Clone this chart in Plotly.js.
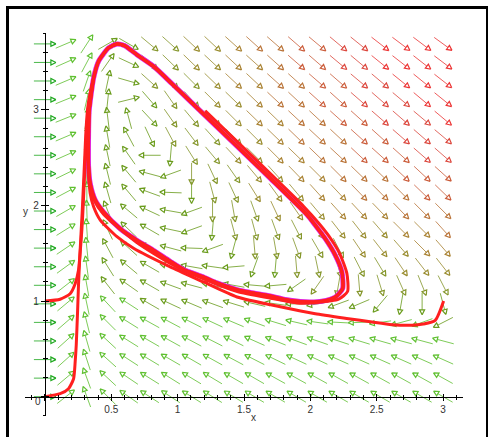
<!DOCTYPE html>
<html><head><meta charset="utf-8">
<script src="https://cdn.plot.ly/plotly-3.0.1.min.js"></script>
<style>
html,body{margin:0;padding:0;background:#fff;overflow:hidden}
#chart{position:absolute;left:0;top:0;width:488px;height:437px}
#frame{position:absolute;left:6px;top:6px;width:477px;height:440px;border:3px solid #000;pointer-events:none}
</style></head><body>
<div id="chart"></div><div id="frame"></div>
<script>
// grid of direction-field arrows (centres)
const gridX = [0,0.158,0.316,0.474,0.632,0.789,0.947,1.105,1.263,1.421,1.579,1.737,1.895,2.053,2.211,2.368,2.526,2.684,2.842,3];
const gridY = [0,0.194,0.388,0.583,0.777,0.971,1.165,1.359,1.554,1.748,1.942,2.136,2.331,2.525,2.719,2.913,3.107,3.302,3.496,3.69];
// arrow directions (degrees on screen, rows from y=0 upward)
const arrowAngle = [
[0,38,110,135,145,147,147,148,148,149,149,150,150,150,150,150,150,150,150,150],
[0,40,110,137,146,148,148,149,149,150,150,151,151,151,151,151,151,151,151,151],
[0,42,108,138,147,149,150,150,151,152,153,154,155,155,156,156,156,156,156,156],
[0,42,106,137,148,150,151,152,153,154,156,158,160,161,162,163,164,165,165,165],
[0,41,104,135,148,151,152,153,155,157,160,163,167,172,177,182,188,195,200,207],
[0,40,102,133,147,150,155,157,160,163,167,172,180,190,200,203,-130,-100,-90,-75],
[0,38,100,128,145,150,160,165,167,170,175,185,-145,-125,-100,-85,-73,-66,-68,-63],
[0,36,98,122,140,150,165,170,172,185,-110,-95,-85,-78,-75,-63,-59,-56,-52,-52],
[0,34,96,118,138,150,165,178,200,-105,-85,-80,-70,-60,-63,-56,-52,-49,-45,-49],
[0,32,94,115,136,150,168,200,-95,-75,-75,-70,-63,-55,-52,-52,-49,-45,-45,-48],
[0,30,92,112,140,155,170,200,-90,-80,-70,-65,-55,-50,-48,-47,-46,-46,-45,-45],
[0,28,90,106,130,160,178,-90,-75,-65,-58,-54,-50,-48,-47,-46,-45,-45,-44,-44],
[0,26,89,104,130,165,200,-90,-65,-55,-50,-48,-46,-45,-45,-44,-44,-43,-43,-42],
[0,24,87,102,125,180,-95,-58,-50,-47,-45,-45,-44,-44,-43,-43,-42,-42,-41,-41],
[0,23,84,100,118,-65,-62,-53,-48,-46,-45,-44,-44,-43,-43,-42,-42,-41,-41,-40],
[0,22,80,97,105,-47,-55,-50,-46,-45,-44,-44,-43,-43,-42,-42,-41,-41,-40,-40],
[0,22,77,84,14,-49,-55,-48,-45,-44,-44,-43,-43,-42,-42,-41,-41,-40,-40,-39],
[0,23,71,78,-16,-42,-46,-45,-44,-43,-43,-42,-42,-41,-41,-40,-40,-39,-39,-38],
[0,24,62,55,-25,-42,-44,-44,-43,-43,-42,-42,-41,-41,-40,-40,-39,-38,-38,-37],
[0,23,57,30,-30,-40,-42,-43,-43,-42,-42,-41,-41,-40,-40,-39,-38,-37,-37,-36]
];
// colour level of each arrow (0 green ... 9 red), rows from y=0 upward
const arrowLevel = [
"01111111111111111111",
"01111111111111111111",
"01111111111111111111",
"01111111111111111111",
"01111111111111111112",
"01111222222222222222",
"01122222222223333333",
"01122222222233333444",
"01122222223333344455",
"01122222233334444556",
"01122222333444555666",
"01122222334445566677",
"01122223334455666777",
"01122223344556677788",
"01122233344566677888",
"01122233445566778889",
"01122233445667788899",
"01122333455667788999",
"01122334455677889999",
"01122334456677889999"
];
const levelColors = ["#1fa81f","#5fc030","#6a9c1c","#84962a","#998c2e","#a98232","#b97236","#cb5c3a","#dc463c","#ec3434"];

// limit cycle (clockwise on screen), starting on the left branch
const cycleX = [0.329,0.329,0.333,0.367,0.404,0.479,0.542,0.600,0.693,0.818,0.960,1.200,1.447,1.700,1.974,2.037,2.112,2.188,2.238,2.243,2.188,2.087,2.000,1.924,1.798,1.698,1.547,1.447,1.296,1.195,1.045,0.944,0.818,0.693,0.567,0.442,0.379,0.341,0.329];
const cycleY = [2.406,2.755,2.985,3.334,3.508,3.648,3.689,3.672,3.577,3.456,3.270,2.950,2.619,2.280,1.904,1.793,1.653,1.479,1.304,1.130,1.043,0.998,0.990,0.995,1.020,1.053,1.090,1.119,1.190,1.252,1.330,1.416,1.531,1.636,1.757,1.932,2.057,2.232,2.406];
// trajectory from (0,1)
const t1X = [0.000,0.115,0.190,0.228,0.253,0.266,0.279,0.286,0.295,0.305,0.315,0.330];
const t1Y = [1.000,1.019,1.077,1.182,1.322,1.514,1.757,1.932,2.200,2.500,2.800,3.050];
// trajectory from (0,0)
const t2X = [0.000,0.115,0.178,0.216,0.228,0.236,0.246,0.253,0.261,0.274,0.281,0.290,0.300,0.310,0.325];
const t2Y = [0.000,0.031,0.084,0.188,0.363,0.538,0.886,1.165,1.409,1.757,1.932,2.200,2.500,2.800,3.050];
// trajectory from (3,1)
const t3X = [3.004,2.941,2.850,2.766,2.615,2.464,2.288,2.037,1.773,1.447,1.195,0.944,0.668,0.543,0.417,0.367,0.341,0.330];
const t3Y = [1.000,0.799,0.760,0.747,0.753,0.781,0.816,0.868,0.941,1.043,1.200,1.357,1.552,1.674,1.848,1.987,2.127,2.350];
// trajectory from (1.2,3)
const t4X = [1.208,1.447,1.700,1.950,2.060,2.140,2.220,2.275,2.280,2.213,2.037,1.900,1.700,1.450,1.200,0.944,0.690,0.440,0.370,0.335,0.329];
const t4Y = [2.990,2.670,2.330,1.990,1.820,1.680,1.500,1.290,1.100,1.020,0.985,0.980,1.030,1.100,1.230,1.395,1.615,1.910,2.060,2.240,2.410];

const W = 488, H = 437, M = {l:25, r:25, t:33, b:21};
const xr = [-0.15, 3.15], yr = [-0.202, 3.804];
const ppx = (W - M.l - M.r) / (xr[1] - xr[0]);
const ppy = (H - M.t - M.b) / (yr[1] - yr[0]);
const LEN = 22, HL = 5, HW = 2.5;

const traces = [];
for (let lev = 0; lev < levelColors.length; lev++) {
  const sx = [], sy = [], hx = [], hy = [];
  for (let j = 0; j < gridY.length; j++) {
    for (let i = 0; i < gridX.length; i++) {
      if (+arrowLevel[j][i] !== lev) continue;
      const th = arrowAngle[j][i] * Math.PI / 180;
      const ux = Math.cos(th), uy = Math.sin(th);
      const cx = gridX[i], cy = gridY[j];
      const tx = cx + ux * LEN / 2 / ppx, ty = cy + uy * LEN / 2 / ppy;
      const ax = cx - ux * LEN / 2 / ppx, ay = cy - uy * LEN / 2 / ppy;
      const bx = tx - ux * HL / ppx, by = ty - uy * HL / ppy;
      const nx = -uy * HW / ppx, ny = ux * HW / ppy;
      sx.push(ax, bx, null); sy.push(ay, by, null);
      hx.push(tx, bx + nx, bx - nx, tx, null);
      hy.push(ty, by + ny, by - ny, ty, null);
    }
  }
  if (!sx.length) continue;
  traces.push({type:'scatter', mode:'lines', x:sx, y:sy, hoverinfo:'skip',
    line:{color:levelColors[lev], width:1}, opacity:0.8});
  traces.push({type:'scatter', mode:'lines', x:hx, y:hy, hoverinfo:'skip',
    line:{color:levelColors[lev], width:1.2}});
}
traces.push({type:'scatter', mode:'lines', x:cycleX, y:cycleY, hoverinfo:'skip',
  line:{color:'#e020d8', width:5, shape:'spline', smoothing:0.6}});
const red = {color:'#ff1f1f', width:3, shape:'spline', smoothing:0.6};
const loop = (ax, ay, from) => [ax.concat(cycleX.slice(from), cycleX.slice(1, from + 1)), ay.concat(cycleY.slice(from), cycleY.slice(1, from + 1))];
const r1 = loop(t1X, t1Y, 3), r2 = loop(t2X, t2Y, 3), r3 = loop(t3X, t3Y, 1);
const r4x = t4X.concat(cycleX.slice(1, 15)), r4y = t4Y.concat(cycleY.slice(1, 15));
[[r1[0], r1[1]], [r2[0], r2[1]], [r3[0], r3[1]], [r4x, r4y]].forEach(p => {
  traces.push({type:'scatter', mode:'lines', x:p[0], y:p[1], hoverinfo:'skip', line:red});
});
traces.push({type:'scatter', mode:'markers', x:[0], y:[0], xaxis:'x2', yaxis:'y2',
  marker:{opacity:0}, hoverinfo:'skip'});

const tf = {family:'Liberation Sans, Arial, sans-serif', size:10, color:'#333'};
const xPos = (0 - yr[0]) / (yr[1] - yr[0]);
const yPos = (0 - xr[0]) / (xr[1] - xr[0]);
const xTicks = [0,0.5,1,1.5,2,2.5,3], xText = ['','0.5','1','1.5','2','2.5','3'];
const yTicks = [0,1,2,3], yText = ['','1','2','3'];
const baseX = {range:xr, anchor:'free', position:xPos, showgrid:false, zeroline:false,
  tickmode:'array', tickvals:xTicks, tickcolor:'#000', tickwidth:1, fixedrange:true};
const baseY = {range:yr, anchor:'free', position:yPos, showgrid:false, zeroline:false,
  tickmode:'array', tickvals:yTicks, tickcolor:'#000', tickwidth:1, fixedrange:true};
const layout = {
  width:W, height:H, margin:{l:M.l, r:M.r, t:M.t, b:M.b, pad:0},
  paper_bgcolor:'#fff', plot_bgcolor:'#fff', showlegend:false,
  xaxis:Object.assign({}, baseX, {showline:true, linecolor:'#000', linewidth:1,
    ticks:'outside', ticklen:3, ticktext:xText, tickfont:tf,
    minor:{ticks:'outside', ticklen:2, tickmode:'linear', tick0:0, dtick:0.1, tickcolor:'#000', showgrid:false}}),
  xaxis2:Object.assign({}, baseX, {overlaying:'x', showline:false, ticks:'inside', ticklen:3,
    showticklabels:false, minor:{ticks:'inside', ticklen:2, tickmode:'linear', tick0:0, dtick:0.1, tickcolor:'#000', showgrid:false}}),
  yaxis:Object.assign({}, baseY, {showline:true, linecolor:'#000', linewidth:1,
    ticks:'outside', ticklen:4, ticktext:yText, tickfont:tf,
    minor:{ticks:'outside', ticklen:2, tickmode:'linear', tick0:0, dtick:0.2, tickcolor:'#000', showgrid:false}}),
  yaxis2:Object.assign({}, baseY, {overlaying:'y', showline:false, ticks:'inside', ticklen:3,
    showticklabels:false, minor:{ticks:'inside', ticklen:2, tickmode:'linear', tick0:0, dtick:0.2, tickcolor:'#000', showgrid:false}}),
  annotations:[
    {text:'0', x:-0.05, y:-0.05, xref:'x', yref:'y', showarrow:false, font:tf, xanchor:'center', yanchor:'middle'},
    {text:'x', x:(253 - M.l) / (W - M.l - M.r), y:-0.003, xref:'paper', yref:'paper', showarrow:false, font:tf, xanchor:'center', yanchor:'middle'},
    {text:'y', x:0, y:0.535, xref:'paper', yref:'paper', showarrow:false, font:tf, xanchor:'center', yanchor:'middle'}
  ]
};
Plotly.newPlot('chart', traces, layout, {staticPlot:true, displayModeBar:false});
</script></body></html>
